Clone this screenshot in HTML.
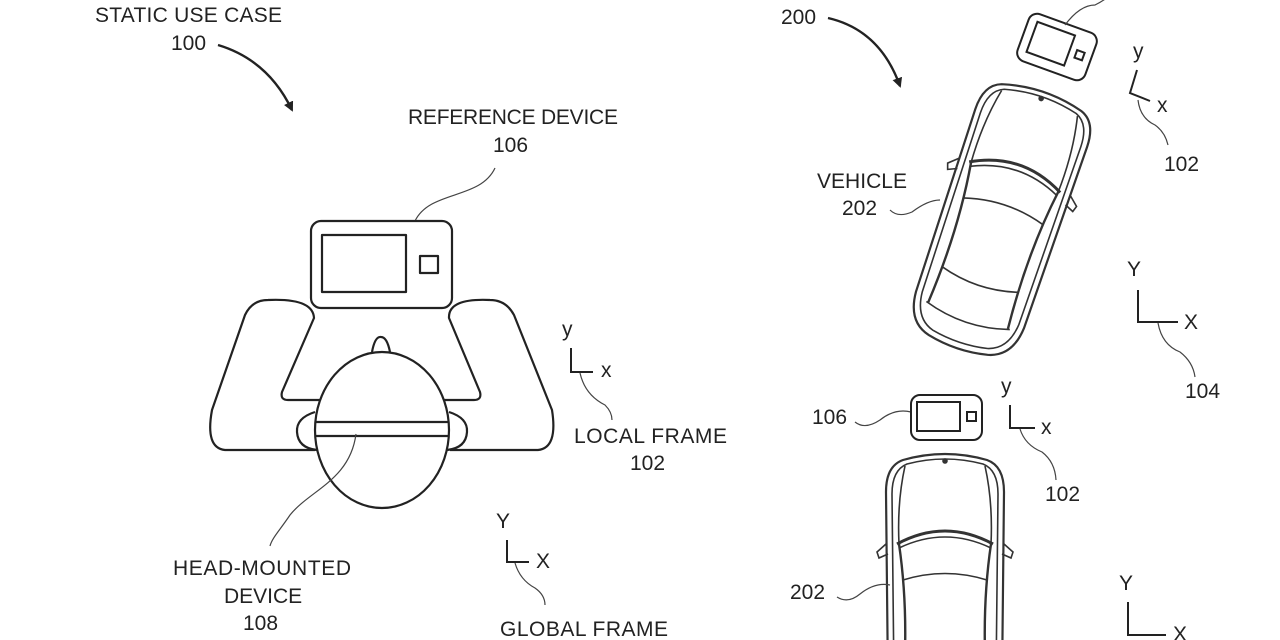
<!DOCTYPE html>
<html><head><meta charset="utf-8"><style>
html,body{margin:0;padding:0;background:#fff;width:1280px;height:640px;overflow:hidden;}
svg{display:block;}
text{font-family:"Liberation Sans",sans-serif;font-size:21px;fill:#222;}
</style></head><body>
<svg width="1280" height="640" viewBox="0 0 1280 640" xmlns="http://www.w3.org/2000/svg">
<defs>
<g id="car" fill="none" stroke="#333" stroke-width="1.6">
  <path d="M -42,8 Q 0,-4 42,8 Q 59,14 59,40 L 57,232 Q 55,263 31,269 Q 0,276 -31,269 Q -55,263 -57,232 L -59,40 Q -59,14 -42,8 Z" stroke-width="2.2"/>
  <path d="M -38,12 Q 0,2 38,12 Q 53,18 53,42 L 51,230 Q 49,257 29,263 Q 0,269 -29,263 Q -49,257 -51,230 L -53,42 Q -53,18 -38,12 Z"/>
  <path d="M -40,14 Q -48,50 -46,92 M 40,14 Q 48,50 46,92"/>
  <path d="M -48,92 Q 0,66 48,92" stroke-width="3"/>
  <path d="M -46,96 Q 0,74 46,96"/>
  <path d="M -46,92 Q -36,160 -42,238 M 46,92 Q 36,160 42,238" stroke-width="2.4"/>
  <path d="M -42,128 Q 0,115 42,128"/>
  <path d="M -40,200 Q 0,212 40,200"/>
  <path d="M -44,238 Q 0,252 44,238"/>
  <path d="M -59,92 L -68,100 L -66,106 L -57,102 M 59,92 L 68,100 L 66,106 L 57,102"/>
  <circle cx="0" cy="9" r="2" fill="#333"/>
</g>
<marker id="ah" markerWidth="10" markerHeight="10" refX="8" refY="5" orient="auto" markerUnits="userSpaceOnUse">
  <path d="M0,0 L10,5 L0,10 Z" fill="#222"/>
</marker>
</defs>

<!-- LEFT -->
<text x="95" y="22" textLength="187">STATIC USE CASE</text>
<text x="171" y="50">100</text>
<path d="M 218,45 Q 268,60 292,110" fill="none" stroke="#222" stroke-width="2.4" marker-end="url(#ah)"/>
<text x="408" y="124" textLength="210">REFERENCE DEVICE</text>
<text x="493" y="152">106</text>
<path d="M 495,168 C 480,200 430,190 415,221" fill="none" stroke="#444" stroke-width="1.2"/>

<g fill="none" stroke="#222" stroke-width="2.2" stroke-linejoin="round">
  <rect x="311" y="221" width="141" height="87" rx="10"/>
  <rect x="322" y="235" width="84" height="57"/>
  <rect x="420" y="256" width="18" height="17"/>
  <path d="M 268,300 Q 252,300 245,315 L 212,410 Q 205,448 225,450 L 315,450 M 268,300 Q 313,298 314,318 L 282,392 Q 280,400 288,400 L 330,400"/>
  <path d="M 490,300 Q 506,300 514,315 L 552,410 Q 558,448 538,450 L 450,450 M 490,300 Q 448,298 449,318 L 480,392 Q 482,400 474,400 L 435,400"/>
  <path d="M 315,412 Q 296,418 297,432 Q 298,448 317,450"/>
  <path d="M 449,412 Q 468,418 467,432 Q 466,448 447,450"/>
  <path d="M 372,352 Q 375,336 381,337 Q 387,337 390,352"/>
  <ellipse cx="382" cy="430" rx="67" ry="78" fill="#fff"/>
  <line x1="315" y1="422" x2="449" y2="422"/>
  <line x1="315" y1="436" x2="449" y2="436"/>
</g>
<path d="M 356,434 C 350,480 310,490 290,515 C 280,530 272,538 270,546" fill="none" stroke="#444" stroke-width="1.2"/>
<text x="173" y="575" textLength="178">HEAD-MOUNTED</text>
<text x="224" y="603">DEVICE</text>
<text x="243" y="630">108</text>

<text x="562" y="336">y</text>
<path d="M 571,348 L 571,372 L 593,372" fill="none" stroke="#222" stroke-width="2"/>
<text x="601" y="377">x</text>
<path d="M 580,373 Q 585,395 605,405 Q 612,412 612,420" fill="none" stroke="#444" stroke-width="1.2"/>
<text x="574" y="443" textLength="153">LOCAL FRAME</text>
<text x="630" y="470">102</text>

<text x="496" y="528">Y</text>
<path d="M 507,540 L 507,562 L 529,562" fill="none" stroke="#222" stroke-width="2"/>
<text x="536" y="568">X</text>
<path d="M 515,563 Q 520,580 535,588 Q 545,595 545,605" fill="none" stroke="#444" stroke-width="1.2"/>
<text x="500" y="636" textLength="168">GLOBAL FRAME</text>

<!-- RIGHT TOP -->
<text x="781" y="24">200</text>
<path d="M 828,18 Q 880,30 900,86" fill="none" stroke="#222" stroke-width="2.4" marker-end="url(#ah)"/>
<g transform="translate(1057,47) rotate(20)" fill="none" stroke="#222" stroke-width="2">
  <rect x="-36" y="-25" width="72" height="50" rx="9"/>
  <rect x="-27" y="-17" width="40" height="32"/>
  <rect x="20" y="-4" width="8" height="8"/>
</g>
<path d="M 1065,25 Q 1080,5 1095,5 Q 1105,0 1110,-5" fill="none" stroke="#444" stroke-width="1.2"/>
<use href="#car" transform="translate(1044,90) rotate(18.6)"/>
<text x="1133" y="58">y</text>
<path d="M 1137,70 L 1130,93 L 1150,101" fill="none" stroke="#222" stroke-width="2"/>
<text x="1157" y="112">x</text>
<path d="M 1138,100 Q 1140,118 1155,125 Q 1165,132 1168,145" fill="none" stroke="#444" stroke-width="1.2"/>
<text x="1164" y="171">102</text>
<text x="817" y="188" textLength="90">VEHICLE</text>
<text x="842" y="215">202</text>
<path d="M 890,210 Q 898,218 912,212 Q 928,200 940,200" fill="none" stroke="#444" stroke-width="1.2"/>
<text x="1127" y="276">Y</text>
<path d="M 1138,290 L 1138,322 L 1178,322" fill="none" stroke="#222" stroke-width="2"/>
<text x="1184" y="329">X</text>
<path d="M 1158,323 Q 1162,345 1180,352 Q 1193,362 1195,377" fill="none" stroke="#444" stroke-width="1.2"/>
<text x="1185" y="398">104</text>

<!-- RIGHT BOTTOM -->
<text x="812" y="424">106</text>
<path d="M 855,422 Q 865,430 880,420 Q 895,408 911,412" fill="none" stroke="#444" stroke-width="1.2"/>
<g fill="none" stroke="#222" stroke-width="2">
  <rect x="911" y="395" width="71" height="45" rx="9"/>
  <rect x="917" y="402" width="43" height="29"/>
  <rect x="967" y="412" width="9" height="9"/>
</g>
<text x="1001" y="393">y</text>
<path d="M 1010,405 L 1010,428 L 1035,428" fill="none" stroke="#222" stroke-width="2"/>
<text x="1041" y="434">x</text>
<path d="M 1020,429 Q 1025,445 1042,452 Q 1055,462 1056,480" fill="none" stroke="#444" stroke-width="1.2"/>
<text x="1045" y="501">102</text>
<use href="#car" transform="translate(945,452)"/>
<text x="790" y="599">202</text>
<path d="M 837,597 Q 848,604 860,594 Q 875,582 890,585" fill="none" stroke="#444" stroke-width="1.2"/>
<text x="1119" y="590">Y</text>
<path d="M 1128,602 L 1128,635 L 1166,635" fill="none" stroke="#222" stroke-width="2"/>
<text x="1173" y="641">X</text>
</svg>
</body></html>
